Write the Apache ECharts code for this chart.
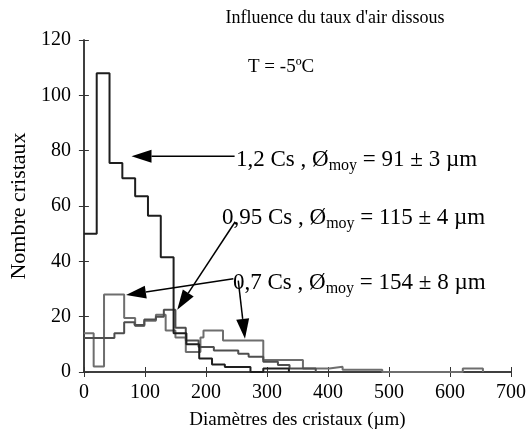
<!DOCTYPE html>
<html>
<head>
<meta charset="utf-8">
<script src="https://cdn.jsdelivr.net/npm/echarts@6/dist/echarts.min.js"></script>
<style>
  html, body { margin: 0; padding: 0; background: #fff; }
  #chart { width: 529px; height: 435px; }
</style>
</head>
<body>
<div id="chart"></div>
<script>
// bin edges (µm) and counts, one pair per curve
const edges12 = [0, 21, 42, 63, 84, 105, 126, 147, 168, 189, 210, 231, 273, 294, 336];
const counts12 = [50, 108, 75.5, 70, 63.5, 56.5, 41.5, 14, 10, 4.9, 2.7, 1.8, 0, 1.3];

const edges095 = [0, 50, 66, 83, 99, 118, 131, 150, 167, 188, 213, 253, 270, 294, 318, 337, 380];
const counts095 = [12.3, 14, 18, 17, 19, 20, 22.5, 16, 11.4, 9, 7.8, 6.6, 5.5, 3.7, 2.5, 1.3];

const edges07 = [0, 16, 33, 66, 84, 99, 118, 134, 150, 167, 191, 196, 228, 294, 359, 402, 424, 489, 621, 654];
const counts07 = [14, 2, 28, 19.5, 16.6, 18.5, 20.7, 15, 12.5, 7.2, 12.5, 15, 11.4, 4.3, 1.3, 1.9, 0.8, 0, 1.3];

// annotation arrows: [tail, tip] in data coords
const arrows = [
  [[247, 78], [78, 78]],
  [[248, 54.3], [153, 22.5]],
  [[245, 33.7], [69, 27.8]],
  [[253, 33], [264, 12]]
];

const serif = "'Liberation Serif', 'DejaVu Serif', serif";

function stepData(edges, counts) {
  // last edge closes the histogram down to 0
  return edges.map((e, i) => [e, i < counts.length ? counts[i] : 0]);
}

const chart = echarts.init(document.getElementById('chart'));

const frameAxis = {
  axisLine: { show: true, lineStyle: { color: '#333', width: 1.5 } },
  axisTick: { show: true, inside: true, length: 5, lineStyle: { color: '#333' } },
  axisLabel: { show: false },
  splitLine: { show: false }
};

chart.setOption({
  animation: false,
  backgroundColor: '#fff',
  grid: { left: 81, right: 17, top: 40, bottom: 55 },
  xAxis: [
    {
      type: 'value', min: 0, max: 700, interval: 100,
      name: 'Diamètres des cristaux (µm)',
      nameLocation: 'middle', nameGap: 39,
      nameTextStyle: { fontFamily: serif, fontSize: 19, color: '#000' },
      axisLine: { lineStyle: { color: '#333', width: 1.5 } },
      axisTick: { inside: true, length: 5, lineStyle: { color: '#333' } },
      axisLabel: { fontFamily: serif, fontSize: 20, color: '#000', margin: 11 },
      splitLine: { show: false }
    },
    Object.assign({ type: 'value', position: 'top', min: 0, max: 700, interval: 100 }, frameAxis)
  ],
  yAxis: [
    {
      type: 'value', min: 0, max: 120, interval: 20,
      name: 'Nombre cristaux',
      nameLocation: 'middle', nameGap: 47,
      nameTextStyle: { fontFamily: serif, fontSize: 22, color: '#000' },
      axisLine: { show: true, lineStyle: { color: '#333', width: 1.5 } },
      axisTick: { show: true, inside: true, length: 5, lineStyle: { color: '#333' } },
      axisLabel: { fontFamily: serif, fontSize: 20, color: '#000', margin: 13 },
      splitLine: { show: false }
    },
    Object.assign({ type: 'value', position: 'right', min: 0, max: 120, interval: 20 }, frameAxis)
  ],
  series: [
    {
      name: '0,7 Cs', type: 'line', step: 'end', showSymbol: false,
      data: stepData(edges07, counts07),
      lineStyle: { color: '#6e6e6e', width: 2 }, z: 2
    },
    {
      name: '0,95 Cs', type: 'line', step: 'end', showSymbol: false,
      data: stepData(edges095, counts095),
      lineStyle: { color: '#4e4e4e', width: 2 }, z: 3
    },
    {
      name: '1,2 Cs', type: 'line', step: 'end', showSymbol: false,
      data: stepData(edges12, counts12),
      lineStyle: { color: '#1e1e1e', width: 2 }, z: 4
    }
  ]
});

// texts and arrows drawn on top, arrows placed through the axes
const graphics = [
  {
    type: 'text', x: 335, y: 18,
    style: { text: "Influence du taux d'air dissous", font: '18px ' + serif, fill: '#000', align: 'center', verticalAlign: 'middle' }
  },
  {
    type: 'text', x: 248, y: 67,
    style: { text: 'T = -5ºC', font: '19px ' + serif, fill: '#000', verticalAlign: 'middle' }
  }
];

const notes = [
  ['1,2 Cs , Ø{s|moy} = 91 ± 3 µm', 236, 160],
  ['0,95 Cs , Ø{s|moy} = 115 ± 4 µm', 222, 218],
  ['0,7 Cs , Ø{s|moy} = 154 ± 8 µm', 233, 283]
];
notes.forEach(n => {
  graphics.push({
    type: 'text', x: n[1], y: n[2],
    style: {
      text: n[0], font: '23px ' + serif, fill: '#000', verticalAlign: 'middle',
      rich: { s: { fontSize: 16, fontFamily: serif, padding: [12, 0, 0, 0] } }
    }
  });
});

arrows.forEach(a => {
  const p0 = chart.convertToPixel({ gridIndex: 0 }, a[0]);
  const p1 = chart.convertToPixel({ gridIndex: 0 }, a[1]);
  const dx = p1[0] - p0[0], dy = p1[1] - p0[1];
  const len = Math.sqrt(dx * dx + dy * dy);
  const ux = dx / len, uy = dy / len;
  const headLen = 20, headHalf = 6.5;
  const bx = p1[0] - ux * headLen, by = p1[1] - uy * headLen;
  graphics.push({
    type: 'line', z: 10,
    shape: { x1: p0[0], y1: p0[1], x2: bx, y2: by },
    style: { stroke: '#000', lineWidth: 1.5 }
  });
  graphics.push({
    type: 'polygon', z: 10,
    shape: { points: [[p1[0], p1[1]], [bx - uy * headHalf, by + ux * headHalf], [bx + uy * headHalf, by - ux * headHalf]] },
    style: { fill: '#000' }
  });
});

chart.setOption({ graphic: graphics });
</script>
</body>
</html>
